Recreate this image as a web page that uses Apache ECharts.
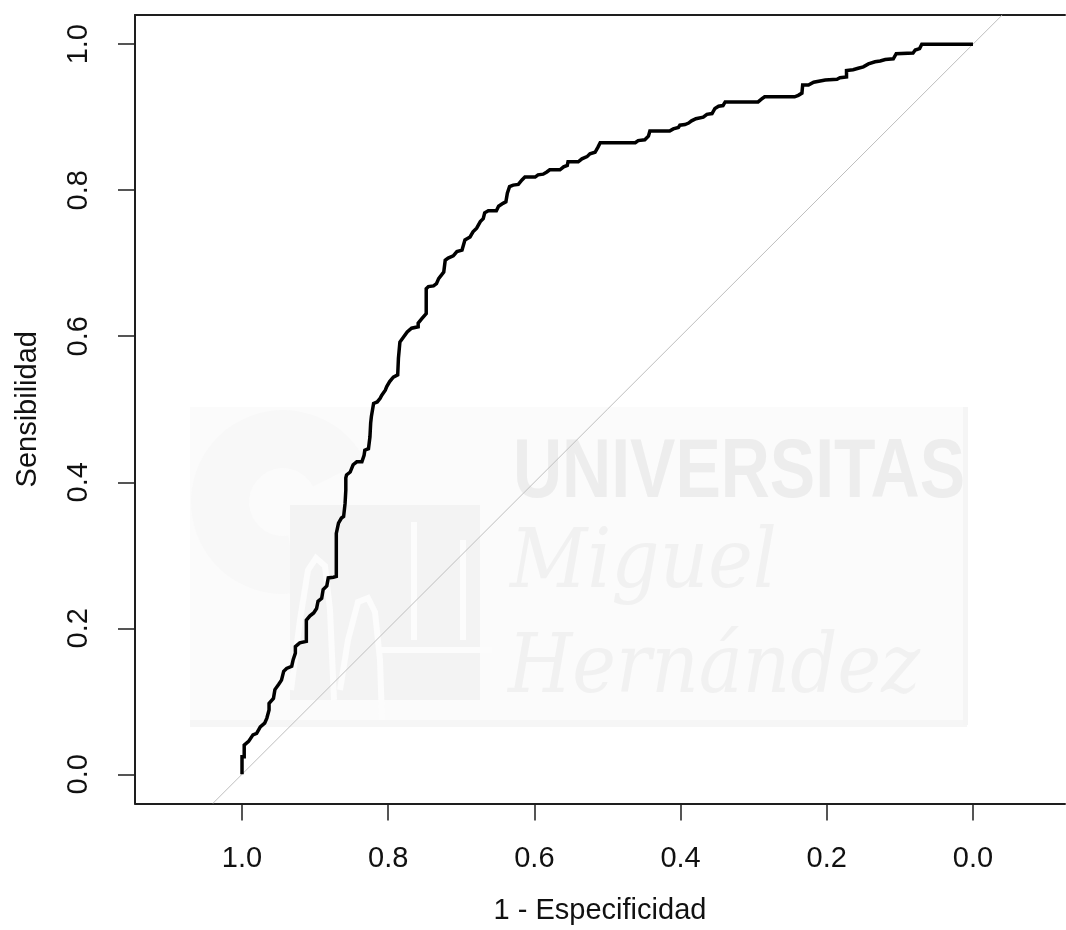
<!DOCTYPE html>
<html>
<head>
<meta charset="utf-8">
<script src="https://cdn.jsdelivr.net/npm/echarts@6.0.0/dist/echarts.min.js"></script>
<style>
  html, body { margin: 0; padding: 0; background: #ffffff; }
  #chart { width: 1066px; height: 930px; }
</style>
</head>
<body>
<div id="chart"></div>
<script>
// ROC curve vertices: specificity (x, drawn reversed) and sensitivity (y)
const specificity = [
  1.000, 1.000, 0.997, 0.997, 0.991, 0.985, 0.980, 0.975, 0.969, 0.966,
  0.963, 0.963, 0.957, 0.955, 0.950, 0.946, 0.943, 0.939, 0.932, 0.930,
  0.927, 0.927, 0.921, 0.912, 0.912, 0.907, 0.902, 0.898, 0.896, 0.891,
  0.889, 0.884, 0.882, 0.875, 0.871, 0.871, 0.868, 0.864, 0.861, 0.859,
  0.858, 0.858, 0.857, 0.852, 0.848, 0.843, 0.836, 0.833, 0.832, 0.827,
  0.825, 0.824, 0.823, 0.820, 0.815, 0.811, 0.809, 0.804, 0.802, 0.798,
  0.793, 0.787, 0.786, 0.784, 0.779, 0.774, 0.768, 0.759, 0.759, 0.754,
  0.748, 0.748, 0.745, 0.738, 0.734, 0.731, 0.727, 0.724, 0.722, 0.718,
  0.711, 0.706, 0.699, 0.695, 0.688, 0.684, 0.679, 0.674, 0.670, 0.668,
  0.663, 0.652, 0.649, 0.643, 0.639, 0.637, 0.634, 0.629, 0.622, 0.617,
  0.613, 0.599, 0.595, 0.588, 0.583, 0.579, 0.565, 0.560, 0.555, 0.554,
  0.540, 0.535, 0.528, 0.524, 0.517, 0.513, 0.510, 0.462, 0.458, 0.449,
  0.444, 0.442, 0.415, 0.410, 0.403, 0.401, 0.394, 0.389, 0.385, 0.379,
  0.369, 0.364, 0.357, 0.353, 0.348, 0.342, 0.339, 0.294, 0.289, 0.285,
  0.244, 0.239, 0.234, 0.233, 0.225, 0.218, 0.202, 0.186, 0.182, 0.173,
  0.173, 0.164, 0.157, 0.150, 0.143, 0.134, 0.127, 0.120, 0.109, 0.105,
  0.082, 0.079, 0.073, 0.070, 0.000
];
const sensitivity = [
  0.000, 0.024, 0.024, 0.040, 0.045, 0.054, 0.056, 0.065, 0.070, 0.077,
  0.088, 0.097, 0.104, 0.116, 0.123, 0.129, 0.141, 0.145, 0.148, 0.157,
  0.166, 0.175, 0.180, 0.182, 0.211, 0.217, 0.221, 0.227, 0.237, 0.241,
  0.253, 0.258, 0.269, 0.270, 0.271, 0.330, 0.344, 0.351, 0.353, 0.371,
  0.389, 0.406, 0.410, 0.414, 0.424, 0.428, 0.428, 0.437, 0.444, 0.446,
  0.462, 0.481, 0.490, 0.508, 0.510, 0.515, 0.519, 0.526, 0.531, 0.538,
  0.544, 0.547, 0.570, 0.592, 0.599, 0.606, 0.611, 0.613, 0.618, 0.624,
  0.631, 0.665, 0.668, 0.669, 0.672, 0.679, 0.684, 0.688, 0.704, 0.707,
  0.710, 0.716, 0.718, 0.732, 0.736, 0.743, 0.748, 0.757, 0.761, 0.769,
  0.772, 0.772, 0.778, 0.782, 0.784, 0.796, 0.805, 0.807, 0.808, 0.814,
  0.818, 0.818, 0.821, 0.822, 0.825, 0.828, 0.828, 0.832, 0.834, 0.839,
  0.839, 0.843, 0.846, 0.850, 0.852, 0.859, 0.865, 0.865, 0.868, 0.869,
  0.874, 0.881, 0.881, 0.884, 0.886, 0.889, 0.890, 0.892, 0.895, 0.898,
  0.900, 0.904, 0.905, 0.912, 0.915, 0.916, 0.921, 0.921, 0.925, 0.928,
  0.928, 0.930, 0.933, 0.944, 0.944, 0.948, 0.951, 0.952, 0.954, 0.955,
  0.964, 0.965, 0.967, 0.969, 0.973, 0.976, 0.977, 0.979, 0.980, 0.987,
  0.988, 0.992, 0.994, 1.000, 1.000
];

// Axis ticks and labels
const tickValues = [0, 0.2, 0.4, 0.6, 0.8, 1.0];
const xTitle = '1 - Especificidad';
const yTitle = 'Sensibilidad';

// Plot extents (x is reversed, aspect ratio 1; the plot is cut at the right page edge)
const xMin = -0.1259, xMax = 1.1464;
const yMin = -0.04, yMax = 1.04;

const FONT = "'Liberation Sans', Arial, sans-serif";
const TEXT_COLOR = '#111111';
const FONT_SIZE = 29;
const FRAME = '#1e1e1e';

const rocData = specificity.map((s, i) => [s, sensitivity[i]]);
// Chance line: sensitivity = 1 - specificity, spanning the vertical extent
const chanceData = [[1 - yMin, yMin], [1 - yMax, yMax]];

// Measure text so the logo lettering can be fitted to its width
const measureCtx = document.createElement('canvas').getContext('2d');
function fitScale(text, font, target) {
  measureCtx.font = font;
  return target / measureCtx.measureText(text).width;
}

const fontUni = "bold 84px 'Liberation Sans', Arial, sans-serif";
const fontSerif = "italic 82px 'DejaVu Serif', 'Liberation Serif', serif";
const strokeWhite = { stroke: '#fcfcfc', lineWidth: 6, fill: null };

const chart = echarts.init(document.getElementById('chart'), null, { renderer: 'canvas' });

chart.setOption({
  animation: false,
  backgroundColor: '#ffffff',
  graphic: [
    // faint university watermark behind the plot
    { type: 'rect', z: -10, shape: { x: 190, y: 407, width: 777, height: 318 },
      style: { fill: '#fbfbfb' } },
    { type: 'rect', z: -10, shape: { x: 190, y: 720, width: 777, height: 7 },
      style: { fill: '#f6f6f6' } },
    { type: 'rect', z: -10, shape: { x: 963, y: 407, width: 5, height: 318 },
      style: { fill: '#f5f5f5' } },
    { type: 'sector', z: -9, shape: { cx: 283, cy: 502, r: 92, r0: 34,
        startAngle: Math.PI * 0.45, endAngle: Math.PI * 1.85 },
      style: { fill: '#f8f8f8' } },
    { type: 'rect', z: -8, shape: { x: 290, y: 505, width: 190, height: 195 },
      style: { fill: '#f3f3f3' } },
    { type: 'polyline', z: -7, shape: { points: [[291, 690], [300, 620], [308, 570], [316, 558], [325, 566], [330, 610], [334, 700]] },
      style: strokeWhite },
    { type: 'polyline', z: -7, shape: { points: [[340, 690], [348, 640], [358, 602], [368, 598], [375, 612], [380, 660], [382, 720]] },
      style: strokeWhite },
    { type: 'polyline', z: -7, shape: { points: [[414, 522], [414, 640]] }, style: strokeWhite },
    { type: 'polyline', z: -7, shape: { points: [[463, 540], [463, 640]] }, style: strokeWhite },
    { type: 'polyline', z: -7, shape: { points: [[380, 650], [492, 650]] }, style: strokeWhite },
    { type: 'text', z: -7, x: 513, y: 474,
      scaleX: fitScale('UNIVERSITAS', fontUni, 452),
      style: { text: 'UNIVERSITAS', font: fontUni, fill: '#ededed', align: 'left', verticalAlign: 'middle' } },
    { type: 'text', z: -7, x: 510, y: 566,
      scaleX: fitScale('Miguel', fontSerif, 267),
      style: { text: 'Miguel', font: fontSerif, fill: '#f1f1f1', align: 'left', verticalAlign: 'middle' } },
    { type: 'text', z: -7, x: 508, y: 671,
      scaleX: fitScale('Hernández', fontSerif, 412),
      style: { text: 'Hernández', font: fontSerif, fill: '#f1f1f1', align: 'left', verticalAlign: 'middle' } }
  ],
  grid: {
    left: 135, top: 15, width: 930, height: 789,
    show: false, containLabel: false
  },
  xAxis: [
    {
      type: 'value',
      inverse: true,
      min: xMin, max: xMax,
      axisLine: { show: true, onZero: false, lineStyle: { color: FRAME, width: 2 } },
      splitLine: { show: false },
      axisTick: { show: true, length: 17, customValues: tickValues,
        lineStyle: { color: FRAME, width: 1.5 } },
      axisLabel: { customValues: tickValues, formatter: v => v.toFixed(1),
        margin: 55, verticalAlign: 'middle', align: 'center',
        fontSize: FONT_SIZE, fontFamily: FONT, color: TEXT_COLOR },
      name: xTitle, nameLocation: 'middle', nameGap: 107,
      nameTextStyle: { fontSize: FONT_SIZE, fontFamily: FONT, color: TEXT_COLOR,
        align: 'center', verticalAlign: 'middle' }
    },
    {
      // top edge of the plot frame
      type: 'value', position: 'top', inverse: true,
      min: xMin, max: xMax,
      axisLine: { show: true, onZero: false, lineStyle: { color: FRAME, width: 2 } },
      axisTick: { show: false }, axisLabel: { show: false }, splitLine: { show: false }
    }
  ],
  yAxis: {
    type: 'value',
    min: yMin, max: yMax,
    axisLine: { show: true, onZero: false, lineStyle: { color: FRAME, width: 2 } },
    splitLine: { show: false },
    axisTick: { show: true, length: 17, customValues: tickValues,
      lineStyle: { color: FRAME, width: 1.5 } },
    axisLabel: { customValues: tickValues, formatter: v => v.toFixed(1),
      rotate: 90, margin: 56, align: 'center', verticalAlign: 'middle',
      fontSize: FONT_SIZE, fontFamily: FONT, color: TEXT_COLOR },
    name: yTitle, nameLocation: 'middle', nameRotate: 90, nameGap: 107,
    nameTextStyle: { fontSize: FONT_SIZE, fontFamily: FONT, color: TEXT_COLOR,
      align: 'center', verticalAlign: 'middle' }
  },
  series: [
    {
      name: 'chance', type: 'line', data: chanceData, xAxisIndex: 0,
      symbol: 'none', silent: true, clip: true,
      lineStyle: { color: '#bebebe', width: 1 }, z: 3
    },
    {
      name: 'ROC', type: 'line', data: rocData, xAxisIndex: 0,
      symbol: 'none', silent: true, clip: true,
      lineStyle: { color: '#000000', width: 3.5, join: 'miter' }, z: 4
    }
  ]
});
</script>
</body>
</html>
